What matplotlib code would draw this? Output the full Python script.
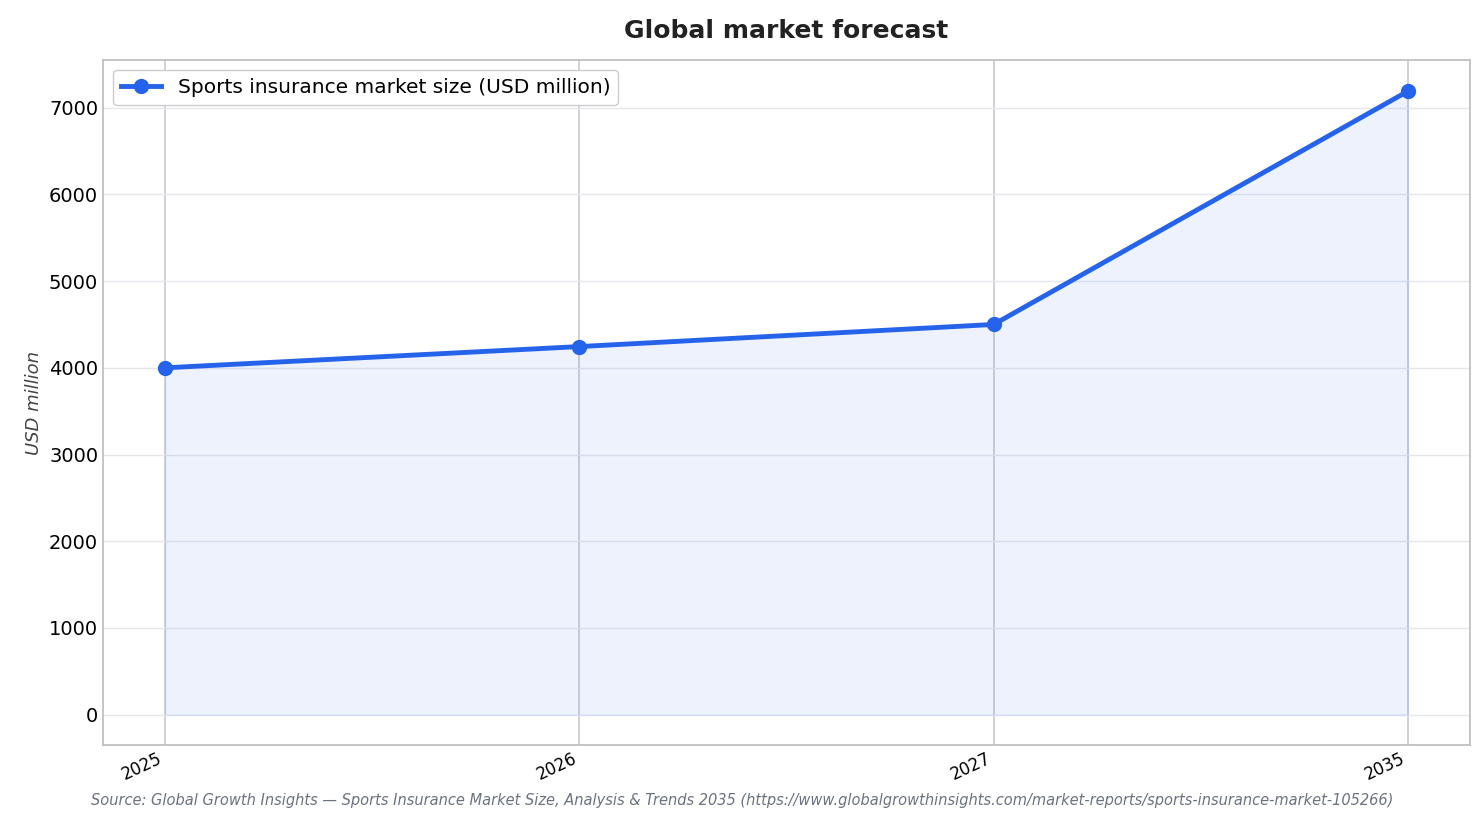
import numpy as np
import matplotlib.pyplot as plt

years = ["2025", "2026", "2027", "2035"]
market_size = [4000, 4245, 4500, 7190]

fig = plt.figure(figsize=(14.84, 8.23), dpi=100)
ax = fig.add_axes([103 / 1484, 1 - 745 / 823, (1470 - 103) / 1484, (745 - 60) / 823])

x = np.arange(len(years))
ax.fill_between(x, market_size, 0, color="#2563eb", alpha=0.08, zorder=1)
ax.plot(x, market_size, color="#2563eb", lw=3.5, marker="o", ms=10,
        label="Sports insurance market size (USD million)", zorder=3)

ax.set_xlim(-0.15, 3.15)
ax.set_ylim(-350, 7550)
ax.set_xticks(x)
ax.set_xticklabels(years, rotation=25, ha="right", fontsize=12)
ax.set_yticks(range(0, 8000, 1000))
ax.tick_params(axis="y", labelsize=14, length=0)
ax.tick_params(axis="x", length=0)
ax.grid(axis="y", color="#e5e7eb", lw=1)
ax.grid(axis="x", color="#c8cad0", lw=1.2)
ax.set_axisbelow(True)
for s in ax.spines.values():
    s.set_color("#c0c0c0")
    s.set_linewidth(1.3)

ax.set_ylabel("USD million", fontsize=13, style="italic", color="#444444")
ax.set_title("Global market forecast", fontsize=18, fontweight="bold", color="#222222", pad=16)
ax.legend(loc="upper left", fontsize=14.5, framealpha=1, edgecolor="#cccccc")

fig.text(742 / 1484, 1 - 800 / 823,
         "Source: Global Growth Insights \u2014 Sports Insurance Market Size, Analysis & Trends 2035 "
         "(https://www.globalgrowthinsights.com/market-reports/sports-insurance-market-105266)",
         ha="center", va="center", fontsize=10.5, style="italic", color="#6b7280")

fig.savefig("out.png", dpi=100)
